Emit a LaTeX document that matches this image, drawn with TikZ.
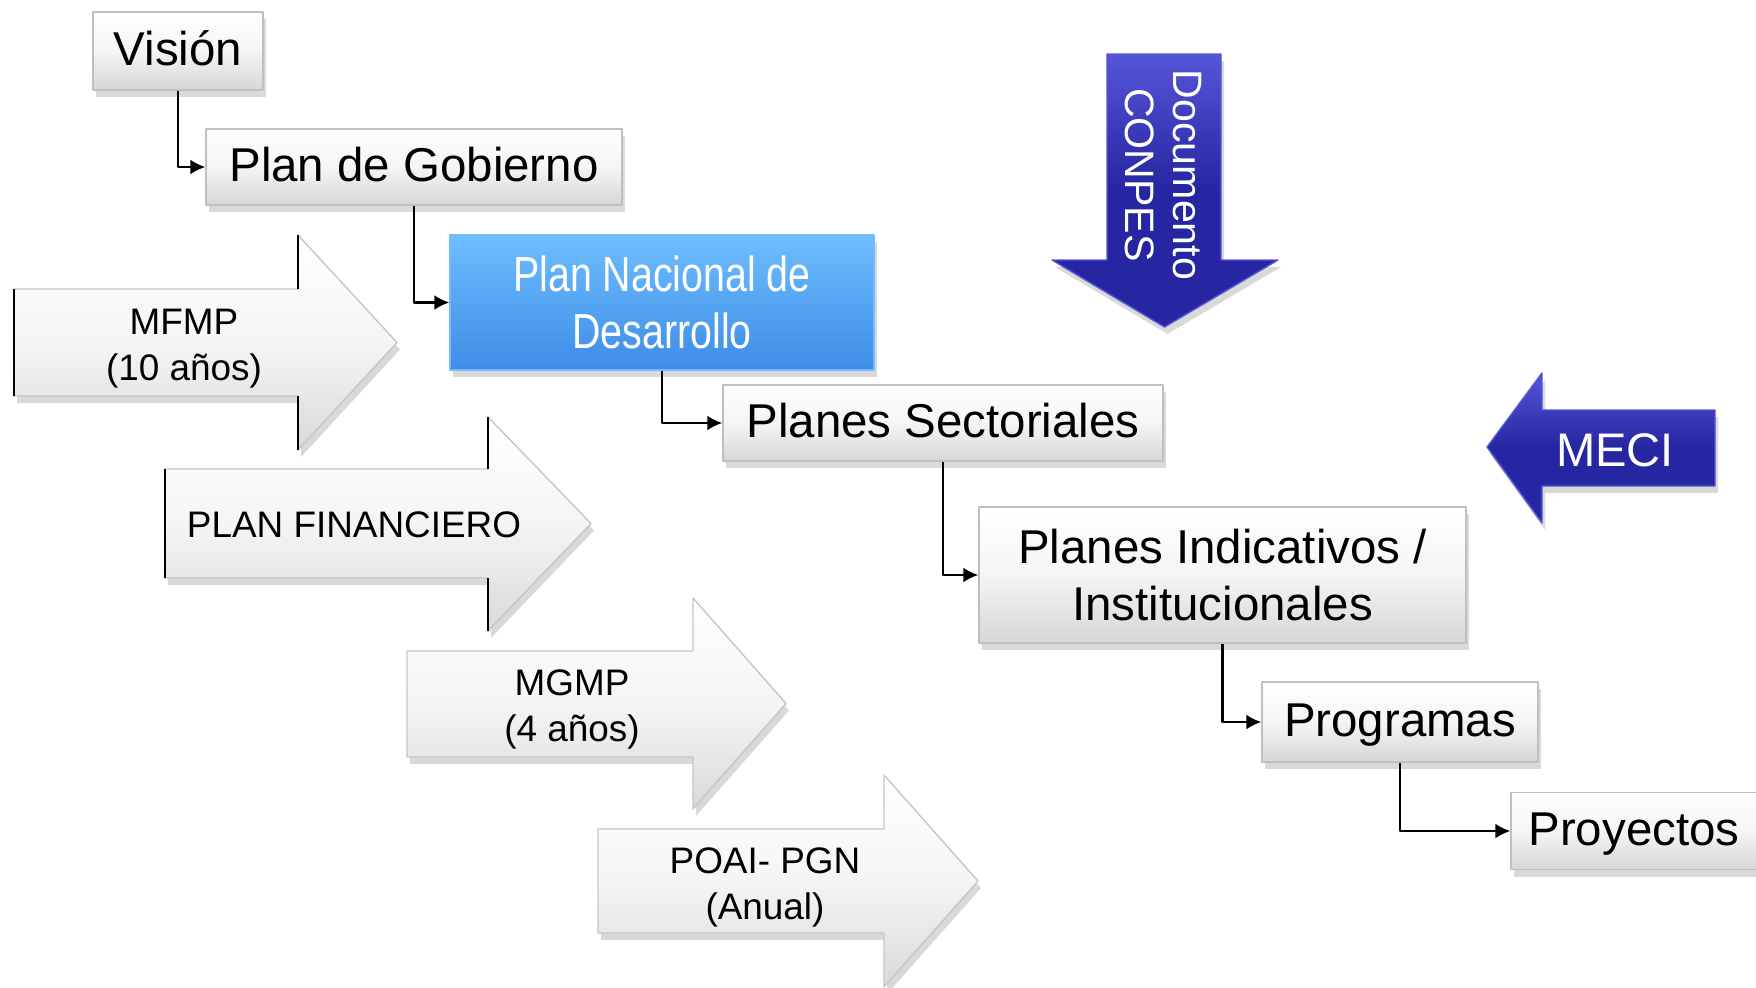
\documentclass[tikz,border=0pt]{standalone}
\usepackage{fontspec}
\setmainfont{Liberation Sans}
\newfontfamily\narrowfont[FakeStretch=0.8]{Liberation Sans}
\usetikzlibrary{arrows.meta,shadows}
\definecolor{pndblue}{RGB}{62,140,230}
\definecolor{pndlight}{RGB}{110,190,255}
\definecolor{navyblue}{RGB}{38,38,162}
\definecolor{navylight}{RGB}{85,85,215}
\tikzset{
	box/.style={draw=gray!50, top color=white, bottom color=gray!32, middle color=gray!8, inner sep=0pt, align=center,
		drop shadow={shadow xshift=0.3mm, shadow yshift=-0.7mm, opacity=0.3}, font=\fontsize{13.5}{16.2}\selectfont},
	oneline/.style={text height=0.95em, text depth=0.15em},
	grayarrow/.style={draw=gray!45, top color=white, bottom color=gray!30, middle color=gray!8,
		drop shadow={shadow xshift=0.3mm, shadow yshift=-0.7mm, opacity=0.3}},
	bluearrow/.style={draw=navylight, top color=navylight, bottom color=navyblue, middle color=navyblue,
		drop shadow={shadow xshift=0.3mm, shadow yshift=-0.7mm, opacity=0.3}},
	arrowtext/.style={align=center, font=\fontsize{10.5}{13.1}\selectfont},
	link/.style={line width=0.7pt, -{Latex[length=1.5mm,width=1.5mm]}}
}
\begin{document}
\begin{tikzpicture}[line join=round]
		\useasboundingbox (0,0) rectangle (17.56,-9.87);
		\path[grayarrow] (0.14,-2.89) -- (2.98,-2.89) -- (2.98,-2.35) -- (3.97,-3.425) -- (2.98,-4.50) -- (2.98,-3.96) -- (0.14,-3.96) -- cycle;
		\path[grayarrow] (1.65,-4.69) -- (4.88,-4.69) -- (4.88,-4.17) -- (5.91,-5.235) -- (4.88,-6.31) -- (4.88,-5.78) -- (1.65,-5.78) -- cycle;
		\path[grayarrow] (4.07,-6.51) -- (6.93,-6.51) -- (6.93,-5.98) -- (7.86,-7.035) -- (6.93,-8.09) -- (6.93,-7.57) -- (4.07,-7.57) -- cycle;
		\path[grayarrow] (5.98,-8.29) -- (8.84,-8.29) -- (8.84,-7.75) -- (9.78,-8.81) -- (8.84,-9.87) -- (8.84,-9.33) -- (5.98,-9.33) -- cycle;
		\draw[line width=0.8pt] (2.98,-2.89) -- (2.98,-2.35) (2.98,-3.96) -- (2.98,-4.50) (0.14,-2.89) -- (0.14,-3.96);
		\draw[line width=0.8pt] (4.88,-4.69) -- (4.88,-4.17) (4.88,-5.78) -- (4.88,-6.31) (1.65,-4.69) -- (1.65,-5.78);
		\node[arrowtext] (mfmp) at (1.84,-3.49) {MFMP\\(10 años)};
		\node[arrowtext] (financiero) at (3.54,-5.25) {PLAN FINANCIERO};
		\node[arrowtext] (mgmp) at (5.72,-7.09) {MGMP\\(4 años)};
		\node[arrowtext] (poai) at (7.65,-8.87) {POAI- PGN\\(Anual)};
		\path[bluearrow] (11.07,-0.54) -- (12.21,-0.54) -- (12.21,-2.60) -- (12.78,-2.60) -- (11.645,-3.27) -- (10.52,-2.60) -- (11.07,-2.60) -- cycle;
		\node[text=white, align=center, rotate=-90, font=\fontsize{11.7}{13.7}\selectfont] (conpes) at (11.63,-1.75) {Documento\\CONPES};
		\path[bluearrow] (17.15,-4.10) -- (15.42,-4.10) -- (15.42,-3.73) -- (14.87,-4.47) -- (15.42,-5.23) -- (15.42,-4.86) -- (17.15,-4.86) -- cycle;
		\node[text=white, font=\fontsize{13.4}{16}\selectfont] (meci) at (16.15,-4.50) {MECI};
		\node[box, oneline, minimum width=1.70cm, minimum height=0.78cm] (vision) at (1.78,-0.51) {Visión};
		\node[box, oneline, minimum width=4.16cm, minimum height=0.76cm] (gobierno) at (4.14,-1.67) {Plan de Gobierno};
		\node[box, draw=pndlight, top color=pndlight, middle color=pndblue, bottom color=pndblue, text=white,
			minimum width=4.24cm, minimum height=1.35cm, font=\narrowfont\fontsize{14}{16.2}\selectfont] (pnd) at (6.62,-3.025) {Plan Nacional de\\Desarrollo};
		\node[box, oneline, minimum width=4.40cm, minimum height=0.76cm] (sectoriales) at (9.43,-4.23) {Planes Sectoriales};
		\node[box, minimum width=4.87cm, minimum height=1.36cm] (indicativos) at (12.225,-5.75) {Planes Indicativos /\\Institucionales};
		\node[box, oneline, minimum width=2.76cm, minimum height=0.80cm] (programas) at (14.00,-7.22) {Programas};
		\node[box, oneline, minimum width=2.46cm, minimum height=0.77cm] (proyectos) at (16.34,-8.31) {Proyectos};
		\draw[link] (vision.south) |- (gobierno.west);
		\draw[link] (gobierno.south) |- (pnd.west);
		\draw[link] (pnd.south) |- (sectoriales.west);
		\draw[link] (sectoriales.south) |- (indicativos.west);
		\draw[link] (indicativos.south) |- (programas.west);
		\draw[link] (programas.south) |- (proyectos.west);
\end{tikzpicture}
\end{document}
